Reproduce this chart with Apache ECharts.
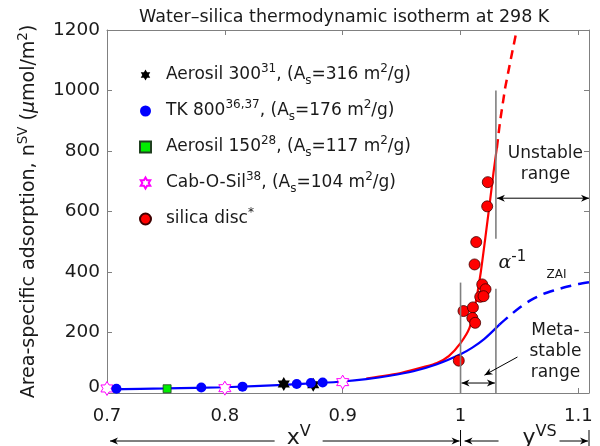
<!DOCTYPE html>
<html><head><meta charset="utf-8">
<script src="https://cdn.jsdelivr.net/npm/echarts@6/dist/echarts.min.js"></script>
<style>html,body{margin:0;padding:0;background:#fff}#c{width:600px;height:446px}</style>
</head><body><div id="c"></div>
<script>
const FONT = 'DejaVu Sans';
const xTickValues = [0.7, 0.8, 0.9, 1.0, 1.1];
const xTickLabels = ['0.7', '0.8', '0.9', '1', '1.1'];
const yTickValues = [0, 200, 400, 600, 800, 1000, 1200];

// measured data
const aerosil300 = [[0.850, 30], [0.875, 27]];
const tk800 = [[0.708, 14], [0.780, 18], [0.815, 21], [0.861, 30], [0.873, 33], [0.883, 35]];
const aerosil150 = [[0.751, 14]];
const cabOSil = [[0.700, 15], [0.800, 16], [0.900, 36]];
const silicaDisc = [[0.9985, 107], [1.0025, 271], [1.0105, 283], [1.0100, 248], [1.0124, 232],
  [1.0119, 425], [1.0133, 499], [1.0184, 359], [1.0212, 343], [1.0167, 318], [1.0195, 320],
  [1.0226, 617], [1.0231, 697]];

// model curves
const zaiSolid = [[0.70, 12], [0.75, 15], [0.80, 19], [0.85, 27], [0.88, 33], [0.90, 38], [0.92, 46],
  [0.94, 57], [0.96, 72], [0.98, 95], [1.00, 128], [1.01, 150], [1.02, 178], [1.033, 226]];
const zaiDashed = [[1.033, 226], [1.04, 250], [1.05, 282], [1.06, 308], [1.07, 327], [1.08, 340],
  [1.09, 351], [1.10, 360], [1.109, 366]];
const alphaSolid = [[0.92, 48], [0.95, 67], [0.97, 87], [0.98, 99], [0.99, 122], [1.00, 165],
  [1.0076, 215], [1.0127, 296], [1.0172, 400], [1.021, 512], [1.0246, 622], [1.028, 730], [1.0308, 810]];
const alphaDashed = [[1.0308, 810], [1.0336, 900], [1.0379, 1010], [1.0435, 1120], [1.0477, 1200]];

// annotation anchors (data units)
const metaRange = [1.0, 1.03];
const xMax = 1.109;

const legendLabels = {
  'Aerosil 300': 'Aerosil 300{sup|31}, (A{sub|s}=316 m{sup|2}/g)',
  'TK 800': 'TK 800{sup|36,37}, (A{sub|s}=176 m{sup|2}/g)',
  'Aerosil 150': 'Aerosil 150{sup|28}, (A{sub|s}=117 m{sup|2}/g)',
  'Cab-O-Sil': 'Cab-O-Sil{sup|38}, (A{sub|s}=104 m{sup|2}/g)',
  'silica disc': 'silica disc{sup|*}'
};

const HEX = 'path://M50,0L64.43,25L93.3,25L78.87,50L93.3,75L64.43,75L50,100L35.57,75L6.7,75L21.13,50L6.7,25L35.57,25Z';
const GRAY = '#808080';
const TXT = '#1a1a1a';

const chart = echarts.init(document.getElementById('c'), null, {renderer: 'canvas'});

const axisCommon = {
  type: 'value',
  axisLine: {show: true, onZero: false, lineStyle: {color: GRAY, width: 1}},
  axisTick: {show: true, inside: true, length: 5, lineStyle: {color: GRAY, width: 1}},
  splitLine: {show: false}
};

const option = {
  animation: false,
  backgroundColor: '#fff',
  title: {
    text: 'Water–silica thermodynamic isotherm at 298 K',
    left: 139, top: 8, padding: 0,
    textStyle: {fontFamily: FONT, fontSize: 17.5, fontWeight: 'normal', color: TXT}
  },
  grid: {left: 107, right: 11, top: 30, bottom: 53},
  legend: {
    orient: 'vertical', left: 134, top: 58,
    itemWidth: 11, itemHeight: 11, itemGap: 12,
    data: ['Aerosil 300', 'TK 800', 'Aerosil 150', 'Cab-O-Sil', 'silica disc'],
    formatter: name => legendLabels[name],
    textStyle: {
      fontFamily: FONT, fontSize: 17, color: TXT, lineHeight: 24, padding: [0, 0, 0, 10],
      rich: {
        sup: {fontFamily: FONT, fontSize: 12, color: TXT, verticalAlign: 'top', lineHeight: 12},
        sub: {fontFamily: FONT, fontSize: 12, color: TXT, verticalAlign: 'bottom', lineHeight: 12}
      }
    }
  },
  xAxis: [
    Object.assign({}, axisCommon, {
      position: 'bottom', min: 0.7, max: xMax, interval: 0.1,
      axisLabel: {
        fontFamily: FONT, fontSize: 18, color: TXT, margin: 14, showMaxLabel: false,
        formatter: v => {
          const i = xTickValues.findIndex(t => Math.abs(t - v) < 1e-6);
          return i >= 0 ? xTickLabels[i] : '';
        }
      }
    }),
    Object.assign({}, axisCommon, {
      position: 'top', min: 0.7, max: xMax, interval: 0.1, axisLabel: {show: false}
    })
  ],
  yAxis: [
    Object.assign({}, axisCommon, {
      position: 'left', min: 0, max: 1200, interval: 200,
      name: 'Area-specific adsorption, n{sup|SV} ({it|μ}mol/m{sup|2})',
      nameLocation: 'middle', nameGap: 53,
      nameTextStyle: {
        fontFamily: FONT, fontSize: 19, color: TXT, lineHeight: 26,
        rich: {
          sup: {fontFamily: FONT, fontSize: 13.5, color: TXT, verticalAlign: 'top', lineHeight: 13},
          it: {fontFamily: FONT, fontSize: 19, color: TXT, fontStyle: 'italic'}
        }
      },
      axisLabel: {
        fontFamily: FONT, fontSize: 18.5, color: TXT, margin: 7,
        formatter: v => yTickValues.indexOf(v) === 0 ? '{z|0}' : String(v),
        rich: {z: {fontFamily: FONT, fontSize: 18.5, color: TXT, padding: [0, 0, 12, 0]}}
      }
    }),
    Object.assign({}, axisCommon, {
      position: 'right', min: 0, max: 1200, interval: 200, axisLabel: {show: false}
    })
  ],
  series: [
    {name: 'alpha fit', type: 'line', data: alphaSolid, showSymbol: false, symbol: 'none', z: 2, smooth: 0.2,
      lineStyle: {color: '#ff0000', width: 2.2}},
    {name: 'alpha fit ext', type: 'line', data: alphaDashed, showSymbol: false, symbol: 'none', z: 2,
      lineStyle: {color: '#ff0000', width: 2.5, type: [9, 6]}},
    {name: 'ZAI fit', type: 'line', data: zaiSolid, showSymbol: false, symbol: 'none', z: 3, smooth: 0.3,
      lineStyle: {color: '#0000ff', width: 2.2}},
    {name: 'ZAI ext', type: 'line', data: zaiDashed, showSymbol: false, symbol: 'none', z: 3, smooth: 0.3,
      lineStyle: {color: '#0000ff', width: 2.5, type: [11, 7]}},
    {name: 'Aerosil 300', type: 'scatter', data: aerosil300, symbol: HEX, symbolKeepAspect: true, symbolSize: 14, z: 4,
      itemStyle: {color: '#000000', opacity: 1}},
    {name: 'Cab-O-Sil', type: 'scatter', data: cabOSil, symbol: HEX, symbolKeepAspect: true, symbolSize: 14, z: 5,
      itemStyle: {color: '#ffffff', borderColor: '#ff00ff', borderWidth: 1, opacity: 1}},
    {name: 'Aerosil 150', type: 'scatter', data: aerosil150, symbol: 'rect', symbolSize: 8, z: 6,
      itemStyle: {color: '#00ee00', borderColor: '#204020', borderWidth: 0.8, opacity: 1}},
    {name: 'TK 800', type: 'scatter', data: tk800, symbol: 'circle', symbolSize: 10, z: 7,
      itemStyle: {color: '#0000ff', opacity: 1}},
    {name: 'silica disc', type: 'scatter', data: silicaDisc, symbol: 'circle', symbolSize: 11, z: 8,
      itemStyle: {color: '#ff0000', borderColor: '#400000', borderWidth: 0.8, opacity: 1}}
  ]
};
chart.setOption(option);

// annotations
const P = (x, y) => chart.convertToPixel({xAxisIndex: 0, yAxisIndex: 0}, [x, y]);
const els = [];
function seg(x1, y1, x2, y2, color, w) {
  els.push({type: 'line', silent: true, z: 20, shape: {x1, y1, x2, y2}, style: {stroke: color, lineWidth: w}});
}
function head(tx, ty, fx, fy) {
  const dx = tx - fx, dy = ty - fy, L = Math.hypot(dx, dy) || 1;
  const ux = dx / L, uy = dy / L, len = 8, half = 3.5;
  const bx = tx - ux * len, by = ty - uy * len;
  const mx = tx - ux * len * 0.7, my = ty - uy * len * 0.7;
  els.push({type: 'polygon', silent: true, z: 21,
    shape: {points: [[tx, ty], [bx - uy * half, by + ux * half], [mx, my], [bx + uy * half, by - ux * half]]},
    style: {fill: '#000'}});
}
function arrow(x1, y1, x2, y2, startHead, endHead) {
  seg(x1, y1, x2, y2, '#000', 1);
  if (startHead) head(x1, y1, x2, y2);
  if (endHead) head(x2, y2, x1, y1);
}
function text(x, y, str, size, extra) {
  els.push({type: 'text', silent: true, z: 22, x, y,
    style: Object.assign({text: str, fontFamily: FONT, fontSize: size, fill: TXT,
      align: 'center', verticalAlign: 'middle', textAlign: 'center', textVerticalAlign: 'middle'}, extra || {})});
}

// vertical range lines
const a0 = P(metaRange[0], 0), a1 = P(metaRange[0], 365);
seg(a0[0], a0[1], a1[0], a1[1], GRAY, 1.6);
const b0 = P(metaRange[1], 0), b1 = P(metaRange[1], 345), b2 = P(metaRange[1], 510), b3 = P(metaRange[1], 1000);
seg(b0[0], b0[1], b1[0], b1[1], GRAY, 1.6);
seg(b2[0], b2[1], b3[0], b3[1], GRAY, 1.6);

// metastable double arrow
const m0 = P(metaRange[0], 33), m1 = P(metaRange[1], 33);
arrow(m0[0] + 1, m0[1], m1[0] - 1, m1[1], true, true);
// unstable double arrow
const u0 = P(metaRange[1], 644), u1 = P(xMax, 644);
arrow(u0[0] + 1, u0[1], u1[0], u1[1], true, true);
// pointer arrow
const p0 = P(1.0483, 119), p1 = P(1.0203, 59);
arrow(p0[0], p0[1], p1[0], p1[1], false, true);

// labels
const tU = P(1.072, 758);
text(tU[0], tU[1], 'Unstable\nrange', 17, {lineHeight: 21});
const tM = P(1.0805, 138);
text(tM[0], tM[1], 'Meta-\nstable\nrange', 17, {lineHeight: 21});
const tZ = P(1.0814, 392);
text(tZ[0], tZ[1], 'ZAI', 12);
const tA = P(1.0322, 430);
text(tA[0], tA[1], '{a|α}{s|-1}', 18, {align: 'left', textAlign: 'left', lineHeight: 26,
  rich: {a: {fontFamily: 'DejaVu Serif', fontStyle: 'italic', fontSize: 19, fill: TXT, lineHeight: 26},
         s: {fontFamily: FONT, fontSize: 15, fill: TXT, verticalAlign: 'top', lineHeight: 15}}});

// bottom composition arrows
const base0 = P(0.7, 0), base1 = P(metaRange[0], 0), baseE = P(xMax, 0);
const yB = base0[1] + 48;
const xV = P(0.866, 0)[0], yVS = P(1.067, 0)[0];
arrow(base0[0] + 3, yB, xV - 28, yB, true, false);
arrow(xV + 20, yB, base1[0] - 1, yB, false, true);
seg(base1[0], yB - 11, base1[0], yB + 6, '#000', 1);
arrow(base1[0] + 4, yB, base1[0] + 38, yB, true, false);
arrow(yVS + 20, yB, baseE[0] - 1, yB, false, true);
seg(baseE[0], yB - 11, baseE[0], yB + 6, '#000', 1);
const richXY = {b: {fontFamily: FONT, fontSize: 22, fill: TXT, lineHeight: 28},
                s: {fontFamily: FONT, fontSize: 16, fill: TXT, verticalAlign: 'top', lineHeight: 16}};
text(xV - 4, yB - 3, '{b|x}{s|V}', 22, {lineHeight: 28, rich: richXY});
text(yVS, yB - 3, '{b|y}{s|VS}', 22, {lineHeight: 28, rich: richXY});

chart.setOption({graphic: {elements: els}});
</script>
</body></html>
